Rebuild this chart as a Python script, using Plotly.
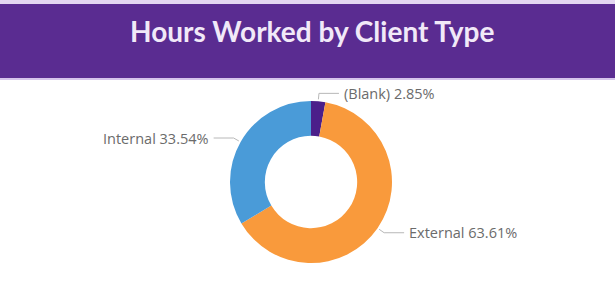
import math
import plotly.graph_objects as go

labels = ["(Blank)", "External", "Internal"]
values = [2.85, 63.61, 33.54]
colors = ["#4b1f8a", "#f99a3c", "#4a9bd8"]
title_text = "Hours Worked by Client Type"

W, H = 615, 289
cx, cy, R = 311, 182, 81
hole = 0.57

fig = go.Figure()
fig.add_trace(go.Pie(
    labels=labels, values=values, sort=False, direction="clockwise", rotation=0,
    hole=hole, marker=dict(colors=colors, line=dict(width=0)),
    textinfo="none", hoverinfo="label+percent", showlegend=False,
    domain=dict(x=[(cx - R) / W, (cx + R) / W], y=[1 - (cy + R) / H, 1 - (cy - R) / H]),
))

# leader lines and labels computed from the slice angles
total = sum(values)
cum = 0
lx, ly = [], []
annotations = []
for lab, v in zip(labels, values):
    mid = (cum + v / 2) / total * 2 * math.pi
    cum += v
    s, c = math.sin(mid), math.cos(mid)
    x1, y1 = cx + (R + 2) * s, cy - (R + 2) * c
    x2, y2 = cx + (R + 8) * s, cy - (R + 8) * c
    side = 1 if s >= 0 else -1
    x3 = x2 + side * 20
    lx += [x1, x2, x3, None]
    ly += [y1, y2, y2, None]
    pct = v / total * 100
    annotations.append(dict(
        x=x3 + side * 3, y=y2, xref="x", yref="y", showarrow=False,
        text=f"{lab} {pct:.2f}%", xanchor="left" if side > 0 else "right", yanchor="middle",
        font=dict(family="Open Sans", size=14.5, color="#6b6b6b"),
    ))

fig.add_trace(go.Scatter(x=lx, y=ly, mode="lines", line=dict(color="#b8b8b8", width=1),
                         hoverinfo="skip", showlegend=False))

annotations.append(dict(
    x=312, y=31, xref="x", yref="y", showarrow=False, text=f"<b>{title_text}</b>",
    font=dict(family="Lato", size=28, color="#f1e9f8"), xanchor="center", yanchor="middle",
))

fig.update_layout(
    width=W, height=H, margin=dict(l=0, r=0, t=0, b=0),
    paper_bgcolor="white", plot_bgcolor="rgba(0,0,0,0)",
    xaxis=dict(range=[0, W], visible=False, fixedrange=True),
    yaxis=dict(range=[H, 0], visible=False, fixedrange=True),
    annotations=annotations,
    shapes=[
        dict(type="rect", xref="x", yref="y", x0=0, x1=W, y0=0, y1=4, fillcolor="#e3d6f1", line=dict(width=0), layer="below"),
        dict(type="rect", xref="x", yref="y", x0=0, x1=W, y0=4, y1=78, fillcolor="#5a2c91", line=dict(width=0), layer="below"),
        dict(type="rect", xref="x", yref="y", x0=0, x1=W, y0=78, y1=80, fillcolor="#d6c4ec", line=dict(width=0), layer="below"),
    ],
)

fig.write_html("out.html", config={"displayModeBar": False},
               post_script="document.body.style.margin='0';document.body.style.overflow='hidden';")
